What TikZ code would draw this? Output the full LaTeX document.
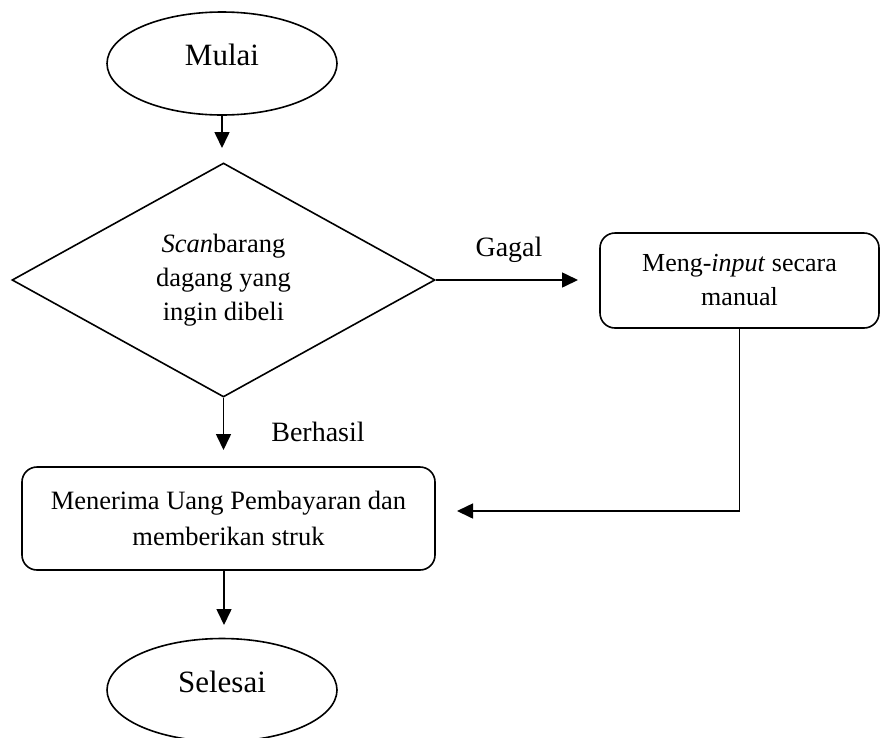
\documentclass[tikz,border=0pt]{standalone}
\usepackage{fontspec}
\setmainfont{Liberation Serif}
\usetikzlibrary{shapes.geometric,arrows.meta}
\begin{document}
\begin{tikzpicture}[x=1pt,y=-1pt,
  line width=1.6pt,
  flow/.style={line width=1.6pt,-{Triangle[length=16pt,width=15pt]}},
  terminal/.style={ellipse,draw,minimum width=230pt,minimum height=103pt,inner sep=0pt,
    text depth=17pt,font=\fontsize{31}{36}\selectfont},
  decision/.style={diamond,draw,minimum width=423pt,minimum height=234pt,inner sep=0pt,
    align=center,font=\fontsize{26.5}{34}\selectfont},
  process/.style={rectangle,draw,rounded corners=15pt,inner sep=0pt,align=center},
  edgelabel/.style={inner sep=0pt,font=\fontsize{28}{32}\selectfont}]
  \useasboundingbox (0,0) rectangle (880,737);

  % shapes of the flow
  \node[terminal] (mulai) at (222,63.5) {Mulai};
  \node[decision] (scan) at (223.5,280) {\textit{Scan}barang\\dagang yang\\ingin dibeli};
  \node[process,minimum width=279pt,minimum height=95pt,
        font=\fontsize{26}{34}\selectfont] (manual) at (739.5,280.5)
        {Meng-\textit{input} secara\\manual};
  \node[process,minimum width=413pt,minimum height=103pt,
        font=\fontsize{26.5}{36}\selectfont] (terima) at (228.5,518.5)
        {Menerima Uang Pembayaran dan\\memberikan struk};
  \node[terminal] (selesai) at (222,690) {Selesai};

  % free ends of the arrows
  \coordinate (inScan) at (222,148);
  \coordinate (inManual) at (578,280);
  \coordinate (inTerima) at (223.5,450);
  \coordinate (backTerima) at (457,511);
  \coordinate (inSelesai) at (224,625);

  % connectors
  \draw[flow] (mulai.south) -- (inScan);
  \draw[flow] (scan.east) -- (inManual);
  \draw[flow] (scan.south) -- (inTerima);
  \draw[flow] (manual.south) -- (manual.south |- backTerima) -- (backTerima);
  \draw[flow] (terima.south -| inSelesai) -- (inSelesai);

  % branch labels
  \node[edgelabel] (gagal) at (509,250) {Gagal};
  \node[edgelabel] (berhasil) at (318,432) {Berhasil};
\end{tikzpicture}
\end{document}
